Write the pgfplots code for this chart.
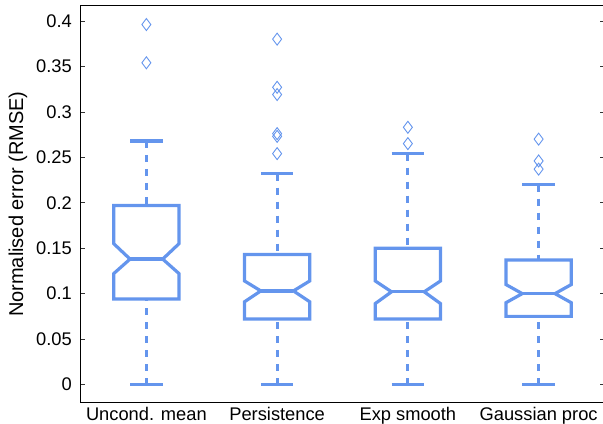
\documentclass[border=0pt]{standalone}
\usepackage{pgfplots}
\pgfplotsset{compat=1.18}
\usepackage{fontspec}
\setmainfont{Liberation Sans}

\definecolor{boxblue}{RGB}{100,149,237}

\pgfplotsset{
  nbox/.style={boxblue, line width=3.2bp, line join=miter},
  whisk/.style={boxblue, line width=2.8bp, dash pattern=on 7bp off 7bp},
  capl/.style={boxblue, line width=3.2bp},
  outl/.style={boxblue, only marks, mark=diamond, mark size=6bp,
               mark options={solid, line width=0.9bp}},
}

\begin{document}
\begin{tikzpicture}
\useasboundingbox (-81bp,-21.3bp) rectangle (522bp,402.7bp);
\begin{axis}[
  scale only axis,
  width=523bp, height=397.2bp,
  xmin=0.5, xmax=4.5,
  ymin=-0.02, ymax=0.417,
  xtick={1,2,3,4},
  xticklabels={Uncond. mean, Persistence, Exp smooth, Gaussian proc},
  xtick style={draw=none},
  ytick={0,0.05,0.1,0.15,0.2,0.25,0.3,0.35,0.4},
  yticklabel style={/pgf/number format/fixed, /pgf/number format/precision=2,
                    /pgf/number format/assume math mode=true},
  tick align=inside,
  major tick length=4.5bp,
  ytick style={black!80, line width=0.6bp},
  axis line style={black, line width=1bp},
  tick label style={font=\fontsize{18.3bp}{21bp}\selectfont, inner sep=0pt},
  xticklabel shift=4.8bp,
  yticklabel shift=9bp,
  ylabel={Normalised error (RMSE)},
  every axis y label/.style={at={(axis description cs:-0.1205,0.5)}, rotate=90,
                             anchor=center, font=\fontsize{20bp}{24bp}\selectfont},
]

% Uncond. mean
\addplot[nbox] coordinates {(1,0.094) (1.25,0.094) (1.25,0.122) (1.125,0.138) (1.25,0.155) (1.25,0.197)
  (0.75,0.197) (0.75,0.155) (0.875,0.138) (0.75,0.122) (0.75,0.094) (1,0.094)};
\addplot[nbox] coordinates {(0.875,0.138) (1.125,0.138)};
\addplot[whisk] coordinates {(1,0.268) (1,0.197)};
\addplot[whisk] coordinates {(1,0) (1,0.094)};
\addplot[capl] coordinates {(0.875,0.268) (1.125,0.268)};
\addplot[capl] coordinates {(0.875,0) (1.125,0)};
\addplot[outl] coordinates {(1,0.396) (1,0.354)};

% Persistence
\addplot[nbox] coordinates {(2,0.072) (2.25,0.072) (2.25,0.091) (2.125,0.103) (2.25,0.114) (2.25,0.143)
  (1.75,0.143) (1.75,0.114) (1.875,0.103) (1.75,0.091) (1.75,0.072) (2,0.072)};
\addplot[nbox] coordinates {(1.875,0.103) (2.125,0.103)};
\addplot[whisk] coordinates {(2,0.232) (2,0.143)};
\addplot[whisk] coordinates {(2,0) (2,0.072)};
\addplot[capl] coordinates {(1.875,0.232) (2.125,0.232)};
\addplot[capl] coordinates {(1.875,0) (2.125,0)};
\addplot[outl] coordinates {(2,0.380) (2,0.327) (2,0.319) (2,0.276) (2,0.273) (2,0.254)};

% Exp smooth
\addplot[nbox] coordinates {(3,0.072) (3.25,0.072) (3.25,0.089) (3.125,0.102) (3.25,0.114) (3.25,0.150)
  (2.75,0.150) (2.75,0.114) (2.875,0.102) (2.75,0.089) (2.75,0.072) (3,0.072)};
\addplot[nbox] coordinates {(2.875,0.102) (3.125,0.102)};
\addplot[whisk] coordinates {(3,0.254) (3,0.150)};
\addplot[whisk] coordinates {(3,0) (3,0.072)};
\addplot[capl] coordinates {(2.875,0.254) (3.125,0.254)};
\addplot[capl] coordinates {(2.875,0) (3.125,0)};
\addplot[outl] coordinates {(3,0.283) (3,0.265)};

% Gaussian proc
\addplot[nbox] coordinates {(4,0.075) (4.25,0.075) (4.25,0.090) (4.125,0.100) (4.25,0.110) (4.25,0.137)
  (3.75,0.137) (3.75,0.110) (3.875,0.100) (3.75,0.090) (3.75,0.075) (4,0.075)};
\addplot[nbox] coordinates {(3.875,0.100) (4.125,0.100)};
\addplot[whisk] coordinates {(4,0.220) (4,0.137)};
\addplot[whisk] coordinates {(4,0) (4,0.075)};
\addplot[capl] coordinates {(3.875,0.220) (4.125,0.220)};
\addplot[capl] coordinates {(3.875,0) (4.125,0)};
\addplot[outl] coordinates {(4,0.270) (4,0.246) (4,0.237)};

\end{axis}
\end{tikzpicture}
\end{document}
